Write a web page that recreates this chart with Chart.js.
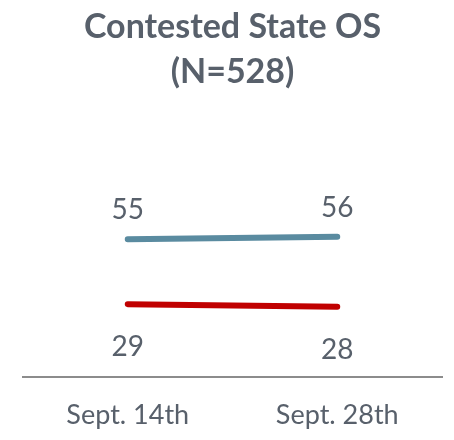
<!DOCTYPE html>
<html lang="en">
<head>
    <meta charset="UTF-8">
    <title>Contested State OS</title>
    <style>
        body { margin: 0; background: #ffffff; }
        #wrap { width: 454px; height: 440px; }
    </style>
</head>
<body>
    <div id="wrap"><canvas id="osChart"></canvas></div>

    <script src="https://cdn.jsdelivr.net/npm/chart.js"></script>
    <script>
        // Chart data
        const dates = ['Sept. 14th', 'Sept. 28th'];
        const blueSeries = [55, 56];
        const redSeries = [29, 28];

        const textColor = '#58606b';

        // Draw value labels: above the blue line, below the red one
        const valueLabels = {
            id: 'valueLabels',
            afterDatasetsDraw(chart) {
                const ctx = chart.ctx;
                ctx.save();
                ctx.font = '28px Lato';
                ctx.fillStyle = textColor;
                ctx.textAlign = 'center';
                ctx.textBaseline = 'middle';
                chart.data.datasets.forEach((ds, i) => {
                    const meta = chart.getDatasetMeta(i);
                    meta.data.forEach((pt, j) => {
                        const dy = ds.labelPos === 'above' ? -29 : 43;
                        ctx.fillText(ds.data[j], pt.x, pt.y + dy);
                    });
                });
                ctx.restore();
            }
        };

        new Chart(document.getElementById('osChart'), {
            type: 'line',
            data: {
                labels: dates,
                datasets: [
                    { data: blueSeries, borderColor: '#5a8ba0', borderWidth: 6, borderCapStyle: 'round', pointRadius: 0, labelPos: 'above' },
                    { data: redSeries, borderColor: '#c00000', borderWidth: 6, borderCapStyle: 'round', pointRadius: 0, labelPos: 'below' }
                ]
            },
            options: {
                responsive: true,
                maintainAspectRatio: false,
                animation: false,
                layout: { padding: { left: 23, right: 12, top: 0, bottom: -13 } },
                plugins: {
                    legend: { display: false },
                    tooltip: { enabled: false },
                    title: {
                        display: true,
                        text: ['Contested State OS', '(N=528)'],
                        color: textColor,
                        font: { family: 'Lato', size: 34, weight: 'bold', lineHeight: 1.32 },
                        padding: { top: 5, bottom: 32 }
                    }
                },
                scales: {
                    x: {
                        offset: true,
                        grid: { display: false, drawTicks: false },
                        border: { display: true, color: '#8c8c8c', width: 2 },
                        ticks: { color: textColor, font: { family: 'Lato', size: 27 }, padding: 22 }
                    },
                    y: {
                        display: false,
                        min: 0,
                        max: 100
                    }
                }
            },
            plugins: [valueLabels]
        });
    </script>
</body>
</html>
